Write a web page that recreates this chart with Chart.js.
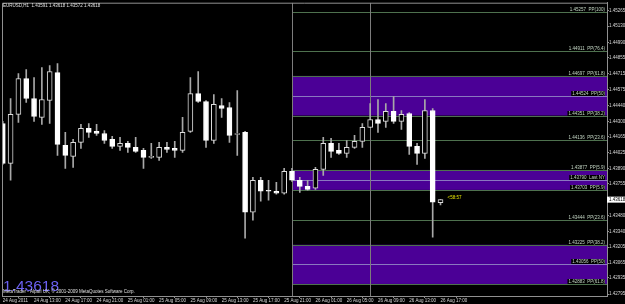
<!DOCTYPE html>
<html>
<head>
<meta charset="utf-8">
<script src="https://cdn.jsdelivr.net/npm/chart.js@4.4.1/dist/chart.umd.min.js"></script>
<style>
  html, body { margin: 0; padding: 0; background: #000; }
</style>
</head>
<body>
<canvas id="eurusd" width="625" height="304"></canvas>
<script>
// EURUSD H1 candles, 24 Aug 2011 09:00 .. 26 Aug 17:00 (bar index = hour)
const opens = [1.44282,1.43934,1.44361,1.44674,1.44500,1.44335,1.44482,1.44726,1.44091,1.43995,
  1.44117,1.44239,1.44213,1.44195,1.44143,1.44082,1.44108,1.44074,1.44047,1.43987,
  1.43987,1.44074,1.44065,1.44047,1.44213,1.44543,1.44474,1.44134,1.44439,1.44421,
  1.44187,1.44204,1.43508,1.43787,1.43700,1.43691,1.43674,1.43865,1.43787,1.43734,
  1.43717,1.43882,1.44108,1.44047,1.44021,1.44074,1.44126,1.44248,1.44317,1.44300,
  1.44387,1.44300,1.44369,1.44082,1.44021,1.44395,1.43591];
const highs = [1.44300,1.44500,1.44717,1.44752,1.44682,1.44769,1.44787,1.44804,1.44204,1.44143,
  1.44274,1.44282,1.44274,1.44221,1.44169,1.44161,1.44126,1.44161,1.44065,1.44108,
  1.44117,1.44117,1.44126,1.44335,1.44682,1.44735,1.44482,1.44535,1.44500,1.44465,
  1.44569,1.44213,1.43813,1.43813,1.43787,1.43769,1.43891,1.43891,1.43813,1.43787,
  1.43900,1.44161,1.44152,1.44108,1.44134,1.44178,1.44282,1.44456,1.44491,1.44456,
  1.44517,1.44395,1.44378,1.44108,1.44491,1.44413,1.43618];
const lows = [1.43926,1.43787,1.44291,1.44465,1.44300,1.44274,1.44282,1.44004,1.43891,1.43900,
  1.44065,1.44161,1.44178,1.44108,1.44065,1.44047,1.44030,1.44030,1.43891,1.43978,
  1.43961,1.44030,1.43987,1.44030,1.44204,1.44465,1.44074,1.44108,1.44335,1.44117,
  1.44004,1.43282,1.43439,1.43604,1.43613,1.43665,1.43665,1.43778,1.43682,1.43700,
  1.43708,1.43830,1.43987,1.44013,1.43987,1.44065,1.44074,1.44248,1.44204,1.44248,
  1.44282,1.44230,1.44013,1.43926,1.43978,1.43291,1.43572];
const closes = [1.43934,1.44361,1.44674,1.44500,1.44343,1.44491,1.44735,1.44100,1.44004,1.44117,
  1.44239,1.44204,1.44195,1.44134,1.44082,1.44108,1.44074,1.44039,1.43987,1.43995,
  1.44074,1.44056,1.44047,1.44204,1.44543,1.44474,1.44134,1.44448,1.44413,1.44178,
  1.44195,1.43508,1.43787,1.43691,1.43691,1.43674,1.43865,1.43787,1.43734,1.43708,
  1.43882,1.44108,1.44039,1.44021,1.44074,1.44126,1.44248,1.44317,1.44282,1.44387,
  1.44300,1.44361,1.44082,1.44021,1.44395,1.43595,1.43618];

const timeIdx = [0,4,8,12,16,20,24,28,32,36,40,44,48,52,56];
const timeLabels = ['24 Aug 2011','24 Aug 13:00','24 Aug 17:00','24 Aug 21:00','25 Aug 01:00',
  '25 Aug 05:00','25 Aug 09:00','25 Aug 13:00','25 Aug 17:00','25 Aug 21:00','26 Aug 01:00',
  '26 Aug 05:00','26 Aug 09:00','26 Aug 13:00','26 Aug 17:00'];

const priceTicks = [1.45265,1.45130,1.44990,1.44855,1.44715,1.44575,1.44440,1.44300,1.44165,1.44025,
  1.43890,1.43755,1.43618,1.43480,1.43340,1.43205,1.43065,1.42935,1.42795];

// pivot levels drawn from the "Last NY" bar onwards
const levelPrices = [1.45257,1.44911,1.44697,1.44524,1.44351,1.44136,1.43877,1.43790,1.43703,1.43444,1.43225,1.43056,1.42883];
const levelTags = ['PP(100)','PP(76.4)','PP(61.8)','PP(50)','PP(38.2)','PP(23.6)','PP(5.9)','Last NY','PP(5.9)','PP(23.6)','PP(38.2)','PP(50)','PP(61.8)'];
const bandTops = [1.44697,1.43877,1.43225];
const bandBottoms = [1.44351,1.43703,1.42883];
const bandMids = [1.44524,1.43790,1.43056];
const levelStart = 37;
const dayMarks = [37, 47];

const header = 'EURUSD,H1  1.43591 1.43618 1.43572 1.43618';
const lastPrice = 1.43618;
const countdown = '<58:57';
const copyright = 'MetaTrader - Alpari UK, \u00a9 2001-2009 MetaQuotes Software Corp.';

const tiny = "4.5px 'Liberation Sans', Arial, sans-serif";

const bodies = opens.map((o, i) => ({ x: i, y: [Math.min(o, closes[i]), Math.max(o, closes[i])] }));
const wicks = lows.map((l, i) => ({ x: i, y: [l, highs[i]] }));
const bodyFill = opens.map((o, i) => closes[i] < o ? '#ffffff' : '#000000');
const bodyEdge = opens.map((o, i) => closes[i] < o ? '#ffffff' : '#dcdcdc');

const overlay = {
  id: 'overlay',
  beforeDatasetsDraw(chart) {
    const { ctx, chartArea: a, scales: { x, y } } = chart;
    const x0 = Math.round(x.getPixelForValue(levelStart)) + 0.5;
    ctx.save();
    ctx.beginPath();
    ctx.rect(a.left, a.top, a.width, a.height);
    ctx.clip();
    ctx.fillStyle = '#4b0096';
    bandTops.forEach((t, k) => {
      const yt = y.getPixelForValue(t);
      const yb = y.getPixelForValue(bandBottoms[k]);
      ctx.fillRect(x0, yt, a.right - x0, yb - yt);
    });
    ctx.lineWidth = 1;
    levelPrices.forEach(p => {
      const yy = Math.round(y.getPixelForValue(p)) + 0.5;
      ctx.strokeStyle = bandMids.includes(p) ? '#8a78c0' : '#4e714e';
      ctx.beginPath();
      ctx.moveTo(x0, yy);
      ctx.lineTo(a.right, yy);
      ctx.stroke();
    });
    ctx.strokeStyle = '#7c7c7c';
    dayMarks.forEach(i => {
      const xx = Math.round(x.getPixelForValue(i)) + 0.5;
      ctx.beginPath();
      ctx.moveTo(xx, a.top);
      ctx.lineTo(xx, a.bottom);
      ctx.stroke();
    });
    ctx.restore();
  },
  afterDraw(chart) {
    const { ctx, chartArea: a, scales: { x, y } } = chart;
    ctx.save();
    // top and left frame
    ctx.strokeStyle = '#909090';
    ctx.lineWidth = 1;
    ctx.beginPath();
    ctx.moveTo(a.left + 0.5, a.bottom);
    ctx.lineTo(a.left + 0.5, a.top + 0.5);
    ctx.lineTo(a.right, a.top + 0.5);
    ctx.stroke();

    ctx.font = tiny;
    ctx.textBaseline = 'middle';
    ctx.fillStyle = '#e0e0e0';
    ctx.textAlign = 'left';
    ctx.fillText(header, a.left + 1, a.top + 3.5);

    // level labels, right aligned above each line
    ctx.textAlign = 'right';
    ctx.textBaseline = 'alphabetic';
    levelPrices.forEach((p, k) => {
      const yy = Math.round(y.getPixelForValue(p));
      const txt = p.toFixed(5) + '  ' + levelTags[k];
      const w = ctx.measureText(txt).width;
      ctx.fillStyle = '#000';
      ctx.fillRect(a.right - 3 - w, yy - 5, w + 1, 5);
      ctx.fillStyle = '#c4d6c4';
      ctx.fillText(txt, a.right - 2, yy - 1);
    });

    // countdown next to the last bar
    ctx.textAlign = 'left';
    ctx.textBaseline = 'middle';
    ctx.fillStyle = '#e6e600';
    ctx.fillText(countdown, x.getPixelForValue(56) + 7, y.getPixelForValue(lastPrice) - 2);

    // current price box on the axis
    const py = y.getPixelForValue(lastPrice);
    ctx.fillStyle = '#ffffff';
    ctx.fillRect(a.right, py - 3, 625 - a.right, 6);
    ctx.fillStyle = '#000000';
    ctx.fillText(lastPrice.toFixed(5), a.right + 2, py);

    // big bid + copyright
    ctx.textBaseline = 'alphabetic';
    ctx.fillStyle = '#6b60f2';
    ctx.font = "15.5px 'Liberation Sans', Arial, sans-serif";
    ctx.fillText(lastPrice.toFixed(5), a.left + 1, a.bottom - 5);
    ctx.font = tiny;
    ctx.fillStyle = '#e0e0e0';
    ctx.textBaseline = 'middle';
    ctx.fillText(copyright, a.left + 1, a.bottom - 4);
    ctx.restore();
  }
};

new Chart(document.getElementById('eurusd'), {
  type: 'bar',
  data: {
    datasets: [
      { label: 'body', data: bodies, backgroundColor: bodyFill, borderColor: bodyEdge,
        borderWidth: 1, borderSkipped: false, barThickness: 5, grouped: false, order: 1 },
      { label: 'wick', data: wicks, backgroundColor: '#a8a8a8', borderWidth: 0,
        barThickness: 1, grouped: false, order: 2 }
    ]
  },
  options: {
    responsive: false,
    animation: false,
    devicePixelRatio: 1,
    layout: { padding: { left: 2, top: 2, right: 0, bottom: 0 } },
    plugins: { legend: { display: false }, tooltip: { enabled: false } },
    scales: {
      x: {
        type: 'linear', min: -0.1, max: 77.3, offset: false,
        afterBuildTicks: s => { s.ticks = timeIdx.map(v => ({ value: v })); },
        afterFit: s => { s.height = 8; },
        ticks: {
          callback: (v, i) => timeLabels[i], autoSkip: false, maxRotation: 0,
          align: 'start', padding: 0, color: '#d8d8d8',
          font: { size: 4.5, family: "'Liberation Sans', Arial, sans-serif" }
        },
        grid: { drawOnChartArea: false, tickLength: 2, color: '#909090' },
        border: { color: '#909090' }
      },
      y: {
        position: 'right', min: 1.42778, max: 1.45335,
        afterBuildTicks: s => { s.ticks = priceTicks.map(v => ({ value: v })); },
        afterFit: s => { s.width = 18; },
        ticks: {
          callback: v => v.toFixed(5), autoSkip: false, padding: 0, color: '#d8d8d8',
          font: { size: 4.5, family: "'Liberation Sans', Arial, sans-serif" }
        },
        grid: { drawOnChartArea: false, tickLength: 2, color: '#909090' },
        border: { color: '#909090' }
      }
    }
  },
  plugins: [overlay]
});
</script>
</body>
</html>
